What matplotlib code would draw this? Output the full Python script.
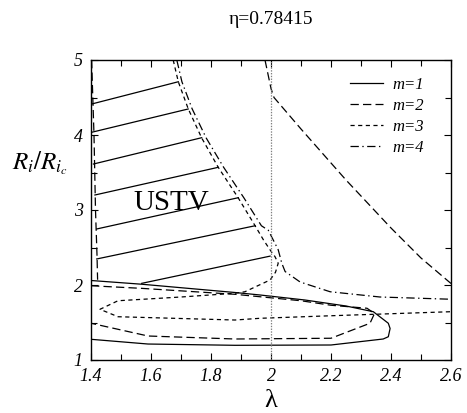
import matplotlib
matplotlib.use("Agg")
import matplotlib.pyplot as plt
from matplotlib.ticker import MultipleLocator

plt.rcParams['font.family'] = ['Liberation Serif', 'DejaVu Serif']
plt.rcParams['mathtext.fontset'] = 'stix'
plt.rcParams['lines.scale_dashes'] = False

# m=1 closed contour (solid)
m1_x = [1.40, 1.57, 1.88, 1.963, 2.113, 2.25, 2.341, 2.391, 2.397, 2.391, 2.374, 2.20, 1.88, 1.59, 1.40]
m1_y = [2.06, 2.01, 1.90, 1.867, 1.80, 1.72, 1.644, 1.49, 1.42, 1.31, 1.28, 1.20, 1.196, 1.213, 1.276]

# m=2 (long dash): left edge piece, lower tongue, right branch
m2a_x = [1.402, 1.41, 1.415, 1.42, 1.422]
m2a_y = [5.0, 4.0, 3.0, 2.4, 2.07]
m2b_x = [1.40, 1.57, 1.88, 2.10, 2.20, 2.32, 2.345, 2.33, 2.20, 1.88, 1.59, 1.40]
m2b_y = [1.99, 1.955, 1.876, 1.79, 1.73, 1.69, 1.62, 1.49, 1.29, 1.28, 1.32, 1.49]
m2c_x = [1.98, 2.0, 2.01, 2.10, 2.25, 2.40, 2.50, 2.60]
m2c_y = [5.0, 4.62, 4.50, 4.08, 3.40, 2.76, 2.36, 2.02]

# m=3 (short dash)
m3_x = [1.674, 1.691, 1.724, 1.769, 1.824, 1.891, 1.947, 1.975, 2.0, 2.013, 2.024, 2.015, 1.997,
        1.913, 1.88, 1.70, 1.49, 1.43, 1.49, 1.88, 1.963, 2.20, 2.60]
m3_y = [5.0, 4.71, 4.35, 3.96, 3.57, 3.16, 2.79, 2.60, 2.45, 2.38, 2.29, 2.17, 2.067,
        1.91, 1.89, 1.84, 1.79, 1.676, 1.577, 1.533, 1.556, 1.59, 1.644]

# m=4 (dash-dot)
m4_x = [1.686, 1.703, 1.737, 1.784, 1.842, 1.910, 1.968, 1.991, 2.024, 2.036, 2.047, 2.097, 2.197, 2.363, 2.60]
m4_y = [5.0, 4.71, 4.35, 3.96, 3.57, 3.16, 2.79, 2.73, 2.47, 2.29, 2.18, 2.04, 1.91, 1.84, 1.81]

# hatching of the USTV region
hatch_x0 = [1.402, 1.402, 1.408, 1.413, 1.419, 1.419, 1.569]
hatch_y0 = [4.413, 4.036, 3.613, 3.20, 2.747, 2.347, 2.022]
hatch_x1 = [1.691, 1.724, 1.769, 1.824, 1.891, 1.947, 1.997]
hatch_y1 = [4.71, 4.347, 3.964, 3.569, 3.164, 2.79, 2.385]

lam_c = 2.0
x_ticks = [1.4, 1.6, 1.8, 2.0, 2.2, 2.4, 2.6]
x_labels = ['1.4', '1.6', '1.8', '2', '2.2', '2.4', '2.6']
y_ticks = [1, 2, 3, 4, 5]
y_labels = ['1', '2', '3', '4', '5']

fig = plt.figure(figsize=(4.67, 4.13), dpi=100)
ax = fig.add_axes([91 / 467, 1 - 360 / 413, 360 / 467, 300 / 413])

lw = 0.9
ax.plot(m1_x, m1_y, color='black', lw=lw, label='m=1')
ax.plot(m2a_x, m2a_y, color='black', lw=lw, dashes=(6, 3), label='m=2')
ax.plot(m2b_x, m2b_y, color='black', lw=lw, dashes=(6, 3))
ax.plot(m2c_x, m2c_y, color='black', lw=lw, dashes=(6, 3))
ax.plot(m3_x, m3_y, color='black', lw=lw, dashes=(3, 2.5), label='m=3')
ax.plot(m4_x, m4_y, color='black', lw=lw, dashes=(6, 2.5, 1, 2.5), label='m=4')
for i in range(len(hatch_x0)):
    ax.plot([hatch_x0[i], hatch_x1[i]], [hatch_y0[i], hatch_y1[i]], color='black', lw=lw)
ax.axvline(lam_c, color='gray', lw=0.9, dashes=(1, 1))

ax.text(1.667, 3.09, 'USTV', fontsize=21, ha='center', va='center')

ax.set_xlim(1.4, 2.6)
ax.set_ylim(1, 5)
ax.set_xticks(x_ticks)
ax.set_xticklabels(x_labels)
ax.set_yticks(y_ticks)
ax.set_yticklabels(y_labels)
ax.xaxis.set_minor_locator(MultipleLocator(0.1))
ax.yaxis.set_minor_locator(MultipleLocator(0.5))
ax.tick_params(which='both', direction='in', top=True, right=True, width=0.8)
ax.tick_params(which='major', length=5, pad=6)
ax.tick_params(which='minor', length=4)
for lab in ax.get_xticklabels() + ax.get_yticklabels():
    lab.set_fontstyle('italic')
    lab.set_fontsize(13)
for sp in ax.spines.values():
    sp.set_linewidth(1.0)

ax.legend(loc='upper right', frameon=False, handlelength=2.0, handletextpad=0.55,
          labelspacing=0.3, prop={'style': 'italic', 'size': 12},
          bbox_to_anchor=(0.972, 1.0), borderaxespad=0.6)

fig.text(271 / 467, 1 - 20 / 413, 'η=0.78415', ha='center', va='center', fontsize=14)
fig.text(12 / 467, 1 - 163 / 413, r'$R_i/R_{i_c}$', ha='left', va='center', fontsize=18)
fig.text(271 / 467, 1 - 401 / 413, 'λ', ha='center', va='center', fontsize=19)

fig.savefig('out.png', dpi=100)
